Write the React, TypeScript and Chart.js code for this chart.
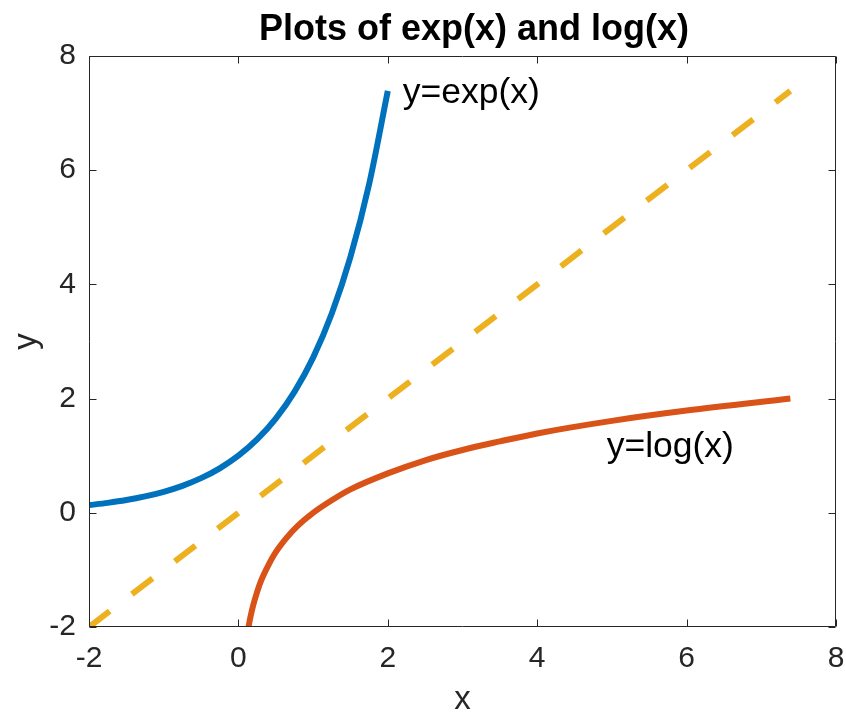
import React, { useEffect, useRef } from "react";
import { Chart, registerables } from "chart.js";

Chart.register(...registerables);

const expX = [-2, -1.75, -1.5, -1.25, -1, -0.75, -0.5, -0.25, 0, 0.25, 0.5, 0.75, 1, 1.25, 1.5, 1.75, 2];
const expY = [0.135, 0.174, 0.223, 0.287, 0.368, 0.472, 0.607, 0.779, 1.0, 1.284, 1.649, 2.117, 2.718, 3.49, 4.482, 5.755, 7.389];
const logX = [0.135, 0.16, 0.2, 0.25, 0.3, 0.4, 0.5, 0.65, 0.8, 1, 1.25, 1.5, 2, 2.5, 3, 3.5, 4, 5, 6, 7.389];
const logY = [-2.0, -1.83, -1.61, -1.39, -1.2, -0.92, -0.69, -0.43, -0.22, 0, 0.22, 0.41, 0.69, 0.92, 1.1, 1.25, 1.39, 1.61, 1.79, 2.0];
const diagX = [-2, 7.389];
const diagY = [-2, 7.389];
const xTicks = [-2, 0, 2, 4, 6, 8];
const yTicks = [-2, 0, 2, 4, 6, 8];
const titleText = "Plots of exp(x) and log(x)";
const xLabel = "x";
const yLabel = "y";
const notes = [
  { text: "y=exp(x)", x: 2.2, y: 7.35 },
  { text: "y=log(x)", x: 4.93, y: 1.15 },
];

const FONT = "'Liberation Sans', Arial, Helvetica, sans-serif";
const AXIS = "#262626";

const pts = (xs: number[], ys: number[]) => xs.map((x, i) => ({ x, y: ys[i] }));

const decor = {
  id: "decor",
  afterDraw(chart: any) {
    const { ctx, chartArea: a, scales } = chart;
    const xs = scales.x;
    const ys = scales.y;
    ctx.save();
    ctx.strokeStyle = AXIS;
    ctx.lineWidth = 1;
    const L = Math.round(a.left) + 0.5;
    const R = Math.round(a.right) - 0.5;
    const T = Math.round(a.top) + 0.5;
    const B = Math.round(a.bottom) - 0.5;
    ctx.beginPath();
    ctx.rect(L, T, R - L, B - T);
    ctx.stroke();
    const tl = 7;
    ctx.beginPath();
    xTicks.forEach((v) => {
      const p = Math.round(xs.getPixelForValue(v)) + 0.5;
      ctx.moveTo(p, B);
      ctx.lineTo(p, B - tl);
      ctx.moveTo(p, T);
      ctx.lineTo(p, T + tl);
    });
    yTicks.forEach((v) => {
      const p = Math.round(ys.getPixelForValue(v)) + 0.5;
      ctx.moveTo(L, p);
      ctx.lineTo(L + tl, p);
      ctx.moveTo(R, p);
      ctx.lineTo(R - tl, p);
    });
    ctx.stroke();
    const cx = (a.left + a.right) / 2;
    ctx.fillStyle = "#000";
    ctx.font = `bold 36px ${FONT}`;
    ctx.textAlign = "center";
    ctx.textBaseline = "alphabetic";
    ctx.fillText(titleText, 474, 40);
    ctx.fillStyle = AXIS;
    ctx.font = `33px ${FONT}`;
    ctx.textBaseline = "middle";
    ctx.fillText(xLabel, cx, 700);
    ctx.save();
    ctx.translate(27, (a.top + a.bottom) / 2);
    ctx.rotate(-Math.PI / 2);
    ctx.fillText(yLabel, 0, 0);
    ctx.restore();
    ctx.fillStyle = "#000";
    ctx.font = `35.5px ${FONT}`;
    ctx.textAlign = "left";
    ctx.textBaseline = "middle";
    notes.forEach((n) => {
      ctx.fillText(n.text, xs.getPixelForValue(n.x), ys.getPixelForValue(n.y));
    });
    ctx.restore();
  },
};

export default function App() {
  const ref = useRef<HTMLCanvasElement>(null);
  useEffect(() => {
    if (!ref.current) return;
    const common = { showLine: true, borderWidth: 6, pointRadius: 0, clip: 0, borderJoinStyle: "round" };
    const chart = new Chart(ref.current, {
      type: "scatter",
      data: {
        datasets: [
          { ...common, data: pts(expX, expY), borderColor: "#0072BD", cubicInterpolationMode: "monotone" },
          { ...common, data: pts(logX, logY), borderColor: "#D95319", cubicInterpolationMode: "monotone" },
          {
            ...common,
            data: pts(diagX, diagY),
            borderColor: "#EDB120",
            borderDash: [26, 28],
            borderCapStyle: "butt",
          },
        ],
      } as any,
      options: {
        animation: false,
        responsive: true,
        maintainAspectRatio: false,
        layout: { padding: { left: 0, top: 56, right: 10, bottom: 0 } },
        plugins: { legend: { display: false }, tooltip: { enabled: false }, title: { display: false } },
        scales: {
          x: {
            type: "linear",
            min: -2,
            max: 8,
            grid: { display: false, drawTicks: false },
            border: { display: false },
            afterBuildTicks: (s: any) => {
              s.ticks = xTicks.map((v) => ({ value: v }));
            },
            afterFit: (s: any) => {
              s.height = 90;
              s.paddingLeft = 0;
              s.paddingRight = 0;
            },
            ticks: {
              color: AXIS,
              font: { family: FONT, size: 30 },
              padding: 14,
              maxRotation: 0,
              callback: (v: any) => String(v),
            },
          },
          y: {
            type: "linear",
            min: -2,
            max: 8,
            grid: { display: false, drawTicks: false },
            border: { display: false },
            afterBuildTicks: (s: any) => {
              s.ticks = yTicks.map((v) => ({ value: v }));
            },
            afterFit: (s: any) => {
              s.width = 89;
              s.paddingTop = 0;
              s.paddingBottom = 0;
            },
            ticks: {
              color: AXIS,
              font: { family: FONT, size: 30 },
              padding: 13,
              callback: (v: any) => String(v),
            },
          },
        },
      } as any,
      plugins: [decor],
    });
    return () => chart.destroy();
  }, []);
  return (
    <div style={{ position: "fixed", left: 0, top: 0, width: 846, height: 717, background: "#fff" }}>
      <canvas ref={ref} />
    </div>
  );
}
